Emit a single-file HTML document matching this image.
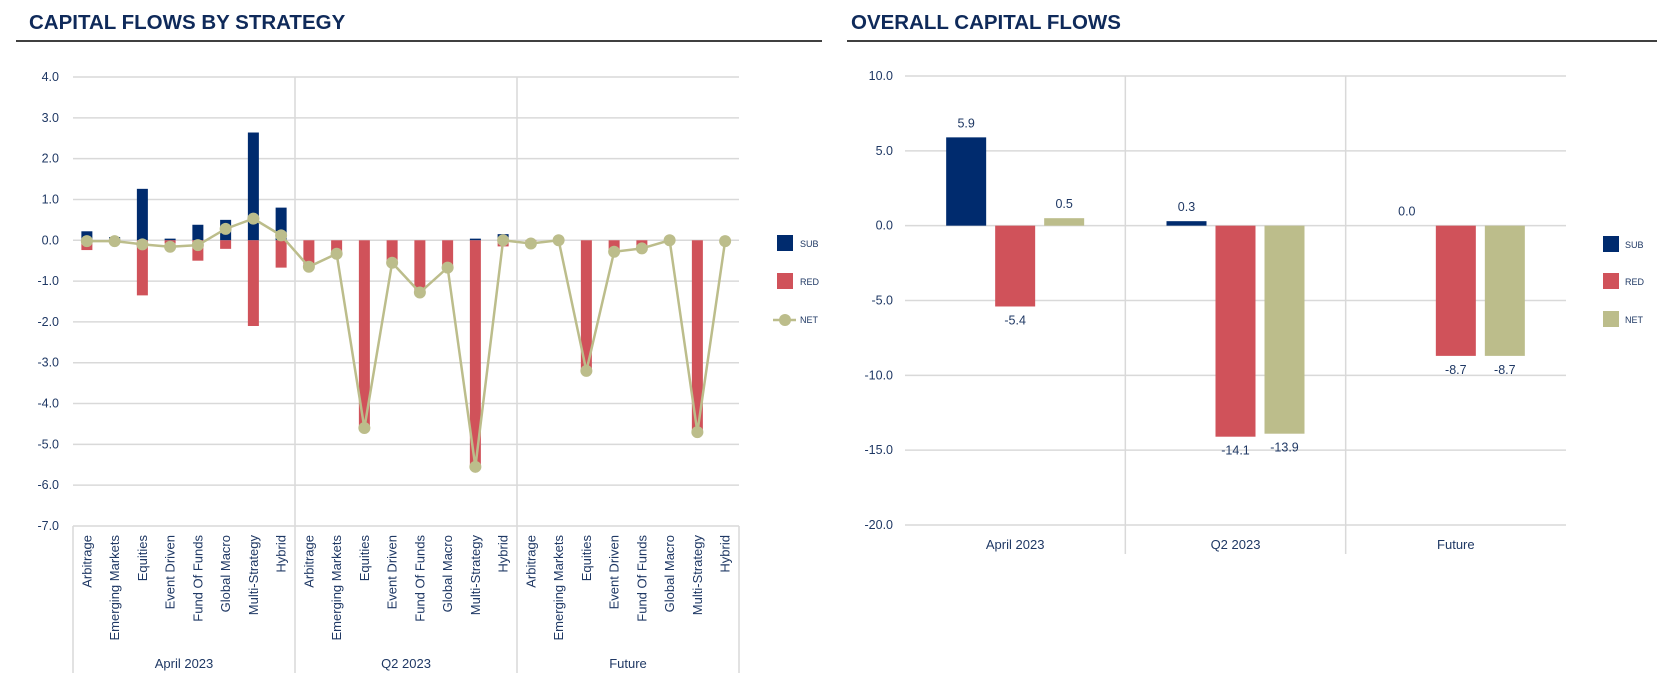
<!DOCTYPE html>
<html><head><meta charset="utf-8">
<style>
body{margin:0;background:#fff;width:1665px;height:687px;overflow:hidden;font-family:"Liberation Sans",sans-serif;}
svg{position:absolute;left:0;top:0}
</style></head>
<body>
<svg id="s" width="1665" height="687"></svg>
<script>
const stratCats=["Arbitrage","Emerging Markets","Equities","Event Driven","Fund Of Funds","Global Macro","Multi-Strategy","Hybrid"];
const periods=["April 2023","Q2 2023","Future"];
const leftTicks=[4,3,2,1,0,-1,-2,-3,-4,-5,-6,-7];
const subL=[0.22,0.08,1.26,0.04,0.38,0.5,2.64,0.8, 0,0,0,0,0,0,0.04,0.15, 0,0,0,0,0,0,0,0];
const redL=[-0.24,-0.05,-1.35,-0.08,-0.5,-0.21,-2.1,-0.67, -0.63,-0.3,-4.6,-0.5,-1.3,-0.68,-5.55,-0.15, -0.08,0,-3.2,-0.3,-0.22,0,-4.7,0];
const netL=[-0.02,-0.02,-0.1,-0.16,-0.12,0.28,0.53,0.12, -0.65,-0.33,-4.6,-0.55,-1.28,-0.67,-5.55,0.0, -0.08,0,-3.2,-0.28,-0.2,0,-4.7,-0.02];
const rightTicks=[10,5,0,-5,-10,-15,-20];
const subR=[5.9,0.3,0.0];
const redR=[-5.4,-14.1,-8.7];
const netR=[0.5,-13.9,-8.7];
const C={sub:"#002b6e",red:"#d0525a",net:"#bcbd8b",grid:"#d9d9d9",txt:"#1f3864"};
const s=document.getElementById('s');
const NS="http://www.w3.org/2000/svg";
function el(t,a,txt){const e=document.createElementNS(NS,t);for(const k in a)e.setAttribute(k,a[k]);if(txt!==undefined)e.textContent=txt;s.appendChild(e);return e;}

let e;
e=el('text',{x:29,y:29,'font-size':20.5,'font-weight':'bold',fill:'#0f2a5a'},'CAPITAL FLOWS BY STRATEGY');

e=el('line',{x1:16,x2:822,y1:41,y2:41,stroke:'#000','stroke-width':1.5});

e=el('text',{x:851,y:29,'font-size':20.5,'font-weight':'bold',fill:'#0f2a5a'},'OVERALL CAPITAL FLOWS');

e=el('line',{x1:847,x2:1657,y1:41,y2:41,stroke:'#000','stroke-width':1.5});


// LEFT CHART
const L={x0:73,x1:739,ytop:77,ybot:526,vmax:4,vmin:-7};
const yL=v=>L.ytop+(L.vmax-v)/(L.vmax-L.vmin)*(L.ybot-L.ytop);
const cw=(L.x1-L.x0)/subL.length;
const xL=i=>L.x0+cw*(i+0.5);
leftTicks.forEach(t=>{
  e=el('line',{x1:L.x0,x2:L.x1,y1:yL(t),y2:yL(t),stroke:C.grid,'stroke-width':1.5});
  
  e=el('text',{x:59,y:yL(t)+4,'font-size':12.5,'text-anchor':'end',fill:C.txt},t.toFixed(1));
  
});
for(let g=0;g<=periods.length;g++){
  const x=L.x0+g*8*cw;
  e=el('line',{x1:x,x2:x,y1:(g==0||g==periods.length)?L.ybot:L.ytop,y2:673,stroke:C.grid,'stroke-width':1.5});
  
}
periods.forEach((p,g)=>{
  e=el('text',{x:L.x0+(g*8+4)*cw,y:668,'font-size':13,'text-anchor':'middle',fill:C.txt},p);
  
});
const bw=11;
subL.forEach((v,i)=>{
  const cat=stratCats[i%8];
  e=el('text',{transform:`translate(${xL(i)+4.5},535) rotate(-90)`,'font-size':13,'text-anchor':'end',fill:C.txt},cat);
  
  if(v!==0){
    e=el('rect',{x:xL(i)-bw/2,y:yL(v),width:bw,height:yL(0)-yL(v),fill:C.sub});
    
  }
  const r=redL[i];
  if(r!==0){
    e=el('rect',{x:xL(i)-bw/2,y:yL(0),width:bw,height:yL(r)-yL(0),fill:C.red});
    
  }
});
e=el('polyline',{points:netL.map((v,i)=>xL(i)+','+yL(v)).join(' '),fill:'none',stroke:C.net,'stroke-width':2.5});

netL.forEach((v,i)=>{
  e=el('circle',{cx:xL(i),cy:yL(v),r:6,fill:C.net});
  
});
e=el('rect',{x:777,y:235,width:16,height:16,fill:C.sub});
e=el('text',{x:800,y:247,'font-size':9,fill:C.txt},'SUB');
e=el('rect',{x:777,y:273,width:16,height:16,fill:C.red});
e=el('text',{x:800,y:285,'font-size':9,fill:C.txt},'RED');
e=el('line',{x1:773,x2:796,y1:320,y2:320,stroke:C.net,'stroke-width':2.5});
e=el('circle',{cx:785,cy:320,r:6,fill:C.net});
e=el('text',{x:800,y:323,'font-size':9,fill:C.txt},'NET');

// RIGHT CHART
const R={x0:905,x1:1566,ytop:76,ybot:525,vmax:10,vmin:-20};
const yR=v=>R.ytop+(R.vmax-v)/(R.vmax-R.vmin)*(R.ybot-R.ytop);
const gw=(R.x1-R.x0)/periods.length;
rightTicks.forEach(t=>{
  e=el('line',{x1:R.x0,x2:R.x1,y1:yR(t),y2:yR(t),stroke:C.grid,'stroke-width':1.5});
  
  e=el('text',{x:893,y:yR(t)+4,'font-size':12.5,'text-anchor':'end',fill:C.txt},t.toFixed(1));
  
});
for(let g=1;g<periods.length;g++){
  const x=R.x0+g*gw;
  e=el('line',{x1:x,x2:x,y1:R.ytop,y2:554,stroke:C.grid,'stroke-width':1.5});
  
}
const rbw=40;
periods.forEach((p,g)=>{
  const cx=R.x0+gw*(g+0.5);
  e=el('text',{x:cx,y:549,'font-size':13,'text-anchor':'middle',fill:C.txt},p);
  
  [[subR,C.sub,'sub',-49],[redR,C.red,'red',0],[netR,C.net,'net',49]].forEach(([arr,col,nm,off])=>{
    const v=arr[g];const x=cx+off;
    const y0=yR(0),y1=yR(v);
    e=el('rect',{x:x-rbw/2,y:Math.min(y0,y1),width:rbw,height:Math.abs(y1-y0),fill:col});
    
    e=el('text',{x:x,y:v>=0?y1-10:y1+18,'font-size':12.5,'text-anchor':'middle',fill:C.txt},v.toFixed(1));
    
  });
});
e=el('rect',{x:1603,y:236,width:16,height:16,fill:C.sub});
e=el('text',{x:1625,y:248,'font-size':9,fill:C.txt},'SUB');
e=el('rect',{x:1603,y:273,width:16,height:16,fill:C.red});
e=el('text',{x:1625,y:285,'font-size':9,fill:C.txt},'RED');
e=el('rect',{x:1603,y:311,width:16,height:16,fill:C.net});
e=el('text',{x:1625,y:323,'font-size':9,fill:C.txt},'NET');
</script>
</body></html>
